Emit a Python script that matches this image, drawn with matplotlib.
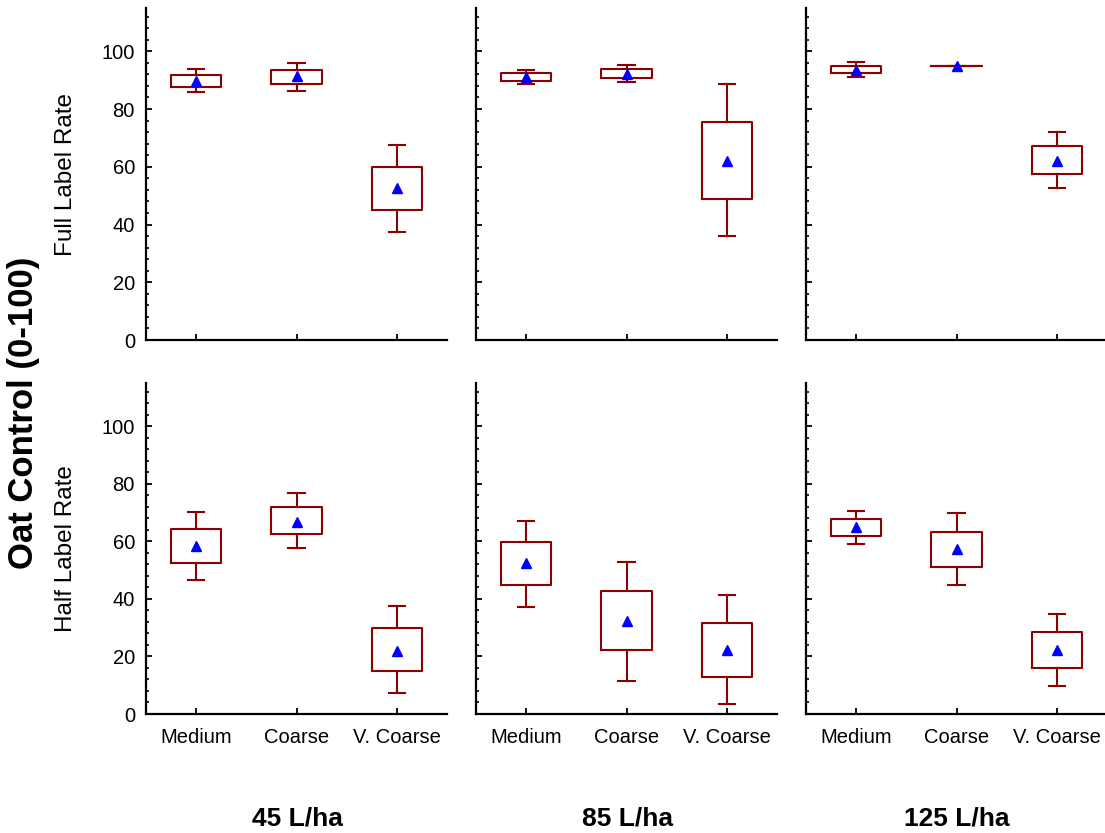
"""
Oat control box plots: droplet size x carrier volume, full and half label rate
"""
import matplotlib
matplotlib.use("Agg")
import matplotlib.pyplot as plt
from matplotlib.ticker import MultipleLocator

plt.rcParams['font.family'] = ['Liberation Sans', 'DejaVu Sans']

categories = ['Medium', 'Coarse', 'V. Coarse']
volumes = ['45 L/ha', '85 L/ha', '125 L/ha']
rates = ['Full Label Rate', 'Half Label Rate']

# each entry per category: (whisker low, box low, mean, box high, whisker high)
full_45 = [(85.8, 87.7, 89.8, 91.9, 94.0),
           (86.4, 88.7, 91.3, 93.4, 96.1),
           (37.3, 44.9, 52.5, 59.8, 67.4)]
full_85 = [(88.6, 89.8, 91.1, 92.4, 93.6),
           (89.5, 90.8, 92.0, 93.9, 95.3),
           (36.0, 49.0, 62.1, 75.4, 88.7)]
full_125 = [(91.1, 92.4, 93.4, 94.8, 96.2),
            (94.8, 94.8, 94.8, 94.8, 94.8),
            (52.7, 57.6, 62.1, 67.2, 71.9)]
half_45 = [(46.7, 52.6, 58.5, 64.4, 70.2),
           (57.7, 62.4, 66.8, 72.0, 76.7),
           (7.4, 14.9, 21.9, 29.9, 37.4)]
half_85 = [(37.3, 44.9, 52.4, 59.7, 67.1),
           (11.6, 22.1, 32.2, 42.6, 52.8),
           (3.6, 13.0, 22.1, 31.7, 41.2)]
half_125 = [(59.1, 61.8, 64.8, 67.7, 70.5),
            (44.8, 51.0, 57.3, 63.4, 69.8),
            (9.9, 16.1, 22.1, 28.5, 34.9)]

panels = [[full_45, full_85, full_125],
          [half_45, half_85, half_125]]

box_color = '#8B0000'
W, H = 1105, 833

fig = plt.figure(figsize=(W / 100, H / 100), dpi=100)

lefts = [146, 476, 806]
rows = [(8, 340), (383, 714)]  # top, bottom in pixels

for r, (top, bottom) in enumerate(rows):
    for c, left in enumerate(lefts):
        ax = fig.add_axes([left / W, (H - bottom) / H, 301 / W, (bottom - top) / H])
        stats = []
        for cat, (wlo, q1, mean, q3, whi) in zip(categories, panels[r][c]):
            stats.append(dict(label=cat, whislo=wlo, q1=q1, med=mean,
                              q3=q3, whishi=whi, mean=mean, fliers=[]))
        ax.bxp(stats, positions=[1, 2, 3], widths=0.5, showmeans=True,
               boxprops=dict(color=box_color, linewidth=1.5),
               whiskerprops=dict(color=box_color, linewidth=1.5),
               capprops=dict(color=box_color, linewidth=1.5),
               capwidths=0.16,
               medianprops=dict(linewidth=0),
               meanprops=dict(marker='^', markerfacecolor='blue',
                              markeredgecolor='blue', markersize=7))
        ax.set_xlim(0.5, 3.5)
        ax.set_ylim(0, 115)
        ax.spines['top'].set_visible(False)
        ax.spines['right'].set_visible(False)
        ax.spines['left'].set_linewidth(1.6)
        ax.spines['bottom'].set_linewidth(1.6)
        ax.yaxis.set_major_locator(MultipleLocator(20))
        ax.yaxis.set_minor_locator(MultipleLocator(4))
        ax.tick_params(axis='both', which='major', direction='in',
                       length=4, width=1.3, labelsize=14.5, pad=8)
        ax.tick_params(axis='x', which='major', pad=10)
        ax.tick_params(axis='y', which='minor', direction='in',
                       length=2.5, width=1.2)
        ax.set_xticks([1, 2, 3])
        if r == 0:
            ax.set_xticklabels([])
        else:
            ax.set_xticklabels(categories)
        if c != 0:
            ax.set_yticklabels([])

        if r == 1:
            fig.text((left + 151) / W, 1 - 818 / H, volumes[c],
                     ha='center', va='center', fontsize=19, fontweight='bold')

    fig.text(66 / W, 1 - ((top + bottom) / 2) / H, rates[r],
             ha='center', va='center', rotation=90, fontsize=17.5)

fig.text(24 / W, 1 - 413 / H, 'Oat Control (0-100)', ha='center', va='center',
         rotation=90, fontsize=25, fontweight='bold')

plt.savefig('out.png', dpi=100)
